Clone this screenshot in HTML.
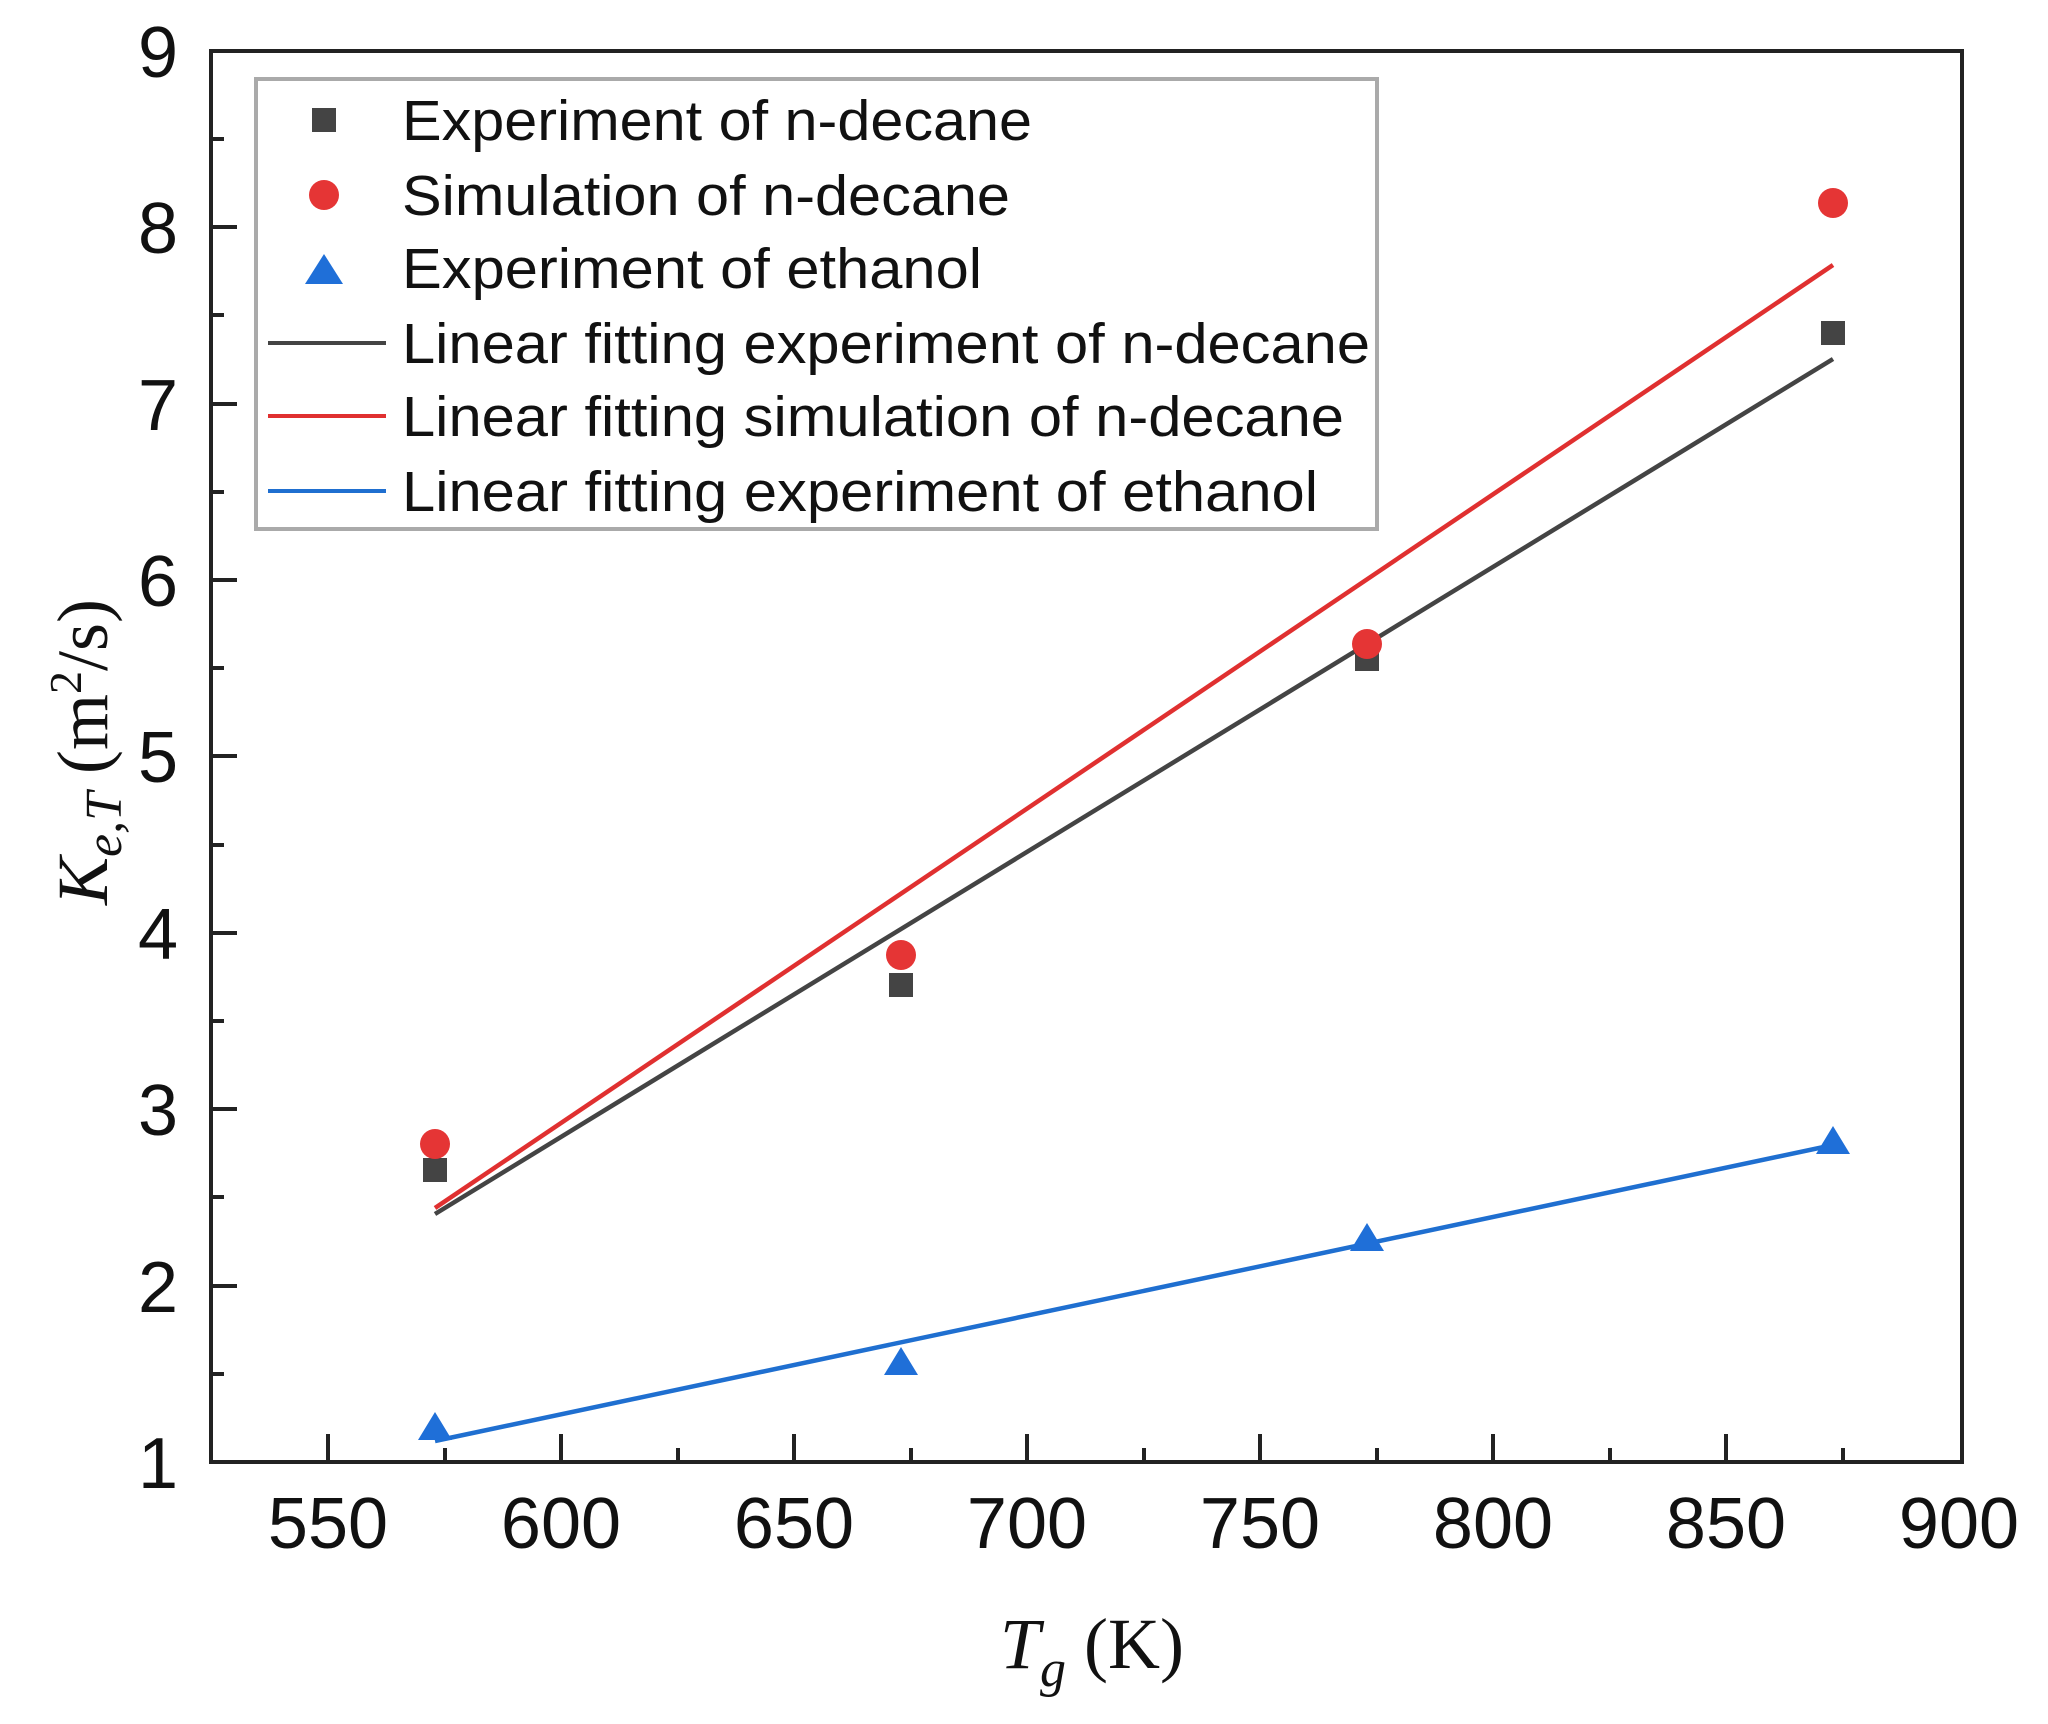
<!DOCTYPE html>
<html><head><meta charset="utf-8"><style>body{margin:0;background:#fff}svg{display:block}</style></head><body>
<svg width="2048" height="1724" viewBox="0 0 2048 1724" xmlns="http://www.w3.org/2000/svg">
<rect width="2048" height="1724" fill="#fff"/>
<g stroke="#222" stroke-width="4" fill="none">
<rect x="211" y="51" width="1751" height="1411"/>
<path d="M328 1462v-28M561 1462v-28M794 1462v-28M1027 1462v-28M1260 1462v-28M1493 1462v-28M1726 1462v-28"/>
<path d="M445 1462v-14M678 1462v-14M911 1462v-14M1144 1462v-14M1377 1462v-14M1610 1462v-14M1843 1462v-14"/>
<path d="M211 1462h26M211 1286h26M211 1109h26M211 933h26M211 756h26M211 580h26M211 404h26M211 227h26"/>
<path d="M211 1374h13M211 1197h13M211 1021h13M211 845h13M211 668h13M211 492h13M211 315h13M211 139h13"/>
</g>
<g font-family="Liberation Sans, sans-serif" font-size="72" fill="#111" text-anchor="middle">
<text x="328" y="1548">550</text><text x="561" y="1548">600</text><text x="794" y="1548">650</text><text x="1027" y="1548">700</text><text x="1260" y="1548">750</text><text x="1493" y="1548">800</text><text x="1726" y="1548">850</text><text x="1959" y="1548">900</text>
</g>
<g font-family="Liberation Sans, sans-serif" font-size="72" fill="#111" text-anchor="end">
<text x="178" y="1488">1</text><text x="178" y="1312">2</text><text x="178" y="1135">3</text><text x="178" y="959">4</text><text x="178" y="782">5</text><text x="178" y="606">6</text><text x="178" y="430">7</text><text x="178" y="253">8</text><text x="178" y="77">9</text>
</g>
<text x="1000" y="1668" font-family="Liberation Serif, serif" font-size="72" fill="#111"><tspan font-style="italic">T</tspan><tspan font-style="italic" font-size="52" dy="18">g</tspan><tspan dy="-18"> (K)</tspan></text>
<text transform="translate(107,905) rotate(-90)" font-family="Liberation Serif, serif" font-size="72" fill="#111"><tspan font-style="italic">K</tspan><tspan font-style="italic" font-size="52" dy="14">e,T</tspan><tspan dy="-14"> (m</tspan><tspan font-size="46" dy="-26">2</tspan><tspan dy="26">/s)</tspan></text>
<line x1="435" y1="1214" x2="1833" y2="359" stroke="#444" stroke-width="4.5"/>
<line x1="435" y1="1208" x2="1833" y2="265" stroke="#e03030" stroke-width="4.5"/>
<line x1="435" y1="1441" x2="1833" y2="1145" stroke="#1f6fd0" stroke-width="4.5"/>
<g fill="#444">
<rect x="423" y="1158" width="24" height="24"/><rect x="889" y="973" width="24" height="24"/><rect x="1355" y="647" width="24" height="24"/><rect x="1821" y="321" width="24" height="24"/>
</g>
<g fill="#e53535">
<circle cx="435" cy="1144" r="15"/><circle cx="901" cy="955" r="15"/><circle cx="1367" cy="644" r="15"/><circle cx="1833" cy="203" r="15"/>
</g>
<g fill="#1f6fd8">
<path d="M435 1412l17 28h-34z"/><path d="M901 1347l17 28h-34z"/><path d="M1367 1223l17 28h-34z"/><path d="M1833 1126l17 28h-34z"/>
</g>
<rect x="256" y="79" width="1121" height="450" fill="#fff" stroke="#aaa" stroke-width="4"/>
<rect x="312" y="108" width="24" height="24" fill="#444"/>
<circle cx="324" cy="195" r="15" fill="#e53535"/>
<path d="M324 254l19 30h-38z" fill="#1f6fd8"/>
<line x1="268" y1="343" x2="386" y2="343" stroke="#444" stroke-width="4"/>
<line x1="268" y1="416" x2="386" y2="416" stroke="#e03030" stroke-width="4"/>
<line x1="268" y1="491" x2="386" y2="491" stroke="#1f6fd0" stroke-width="4"/>
<g font-family="Liberation Sans, sans-serif" font-size="57" fill="#111" lengthAdjust="spacingAndGlyphs">
<text x="402" y="140" textLength="630" lengthAdjust="spacingAndGlyphs">Experiment of n-decane</text>
<text x="402" y="215" textLength="608" lengthAdjust="spacingAndGlyphs">Simulation of n-decane</text>
<text x="402" y="288" textLength="580" lengthAdjust="spacingAndGlyphs">Experiment of ethanol</text>
<text x="402" y="363" textLength="968" lengthAdjust="spacingAndGlyphs">Linear fitting experiment of n-decane</text>
<text x="402" y="436" textLength="942" lengthAdjust="spacingAndGlyphs">Linear fitting simulation of n-decane</text>
<text x="402" y="511" textLength="916" lengthAdjust="spacingAndGlyphs">Linear fitting experiment of ethanol</text>
</g>
</svg>
</body></html>
